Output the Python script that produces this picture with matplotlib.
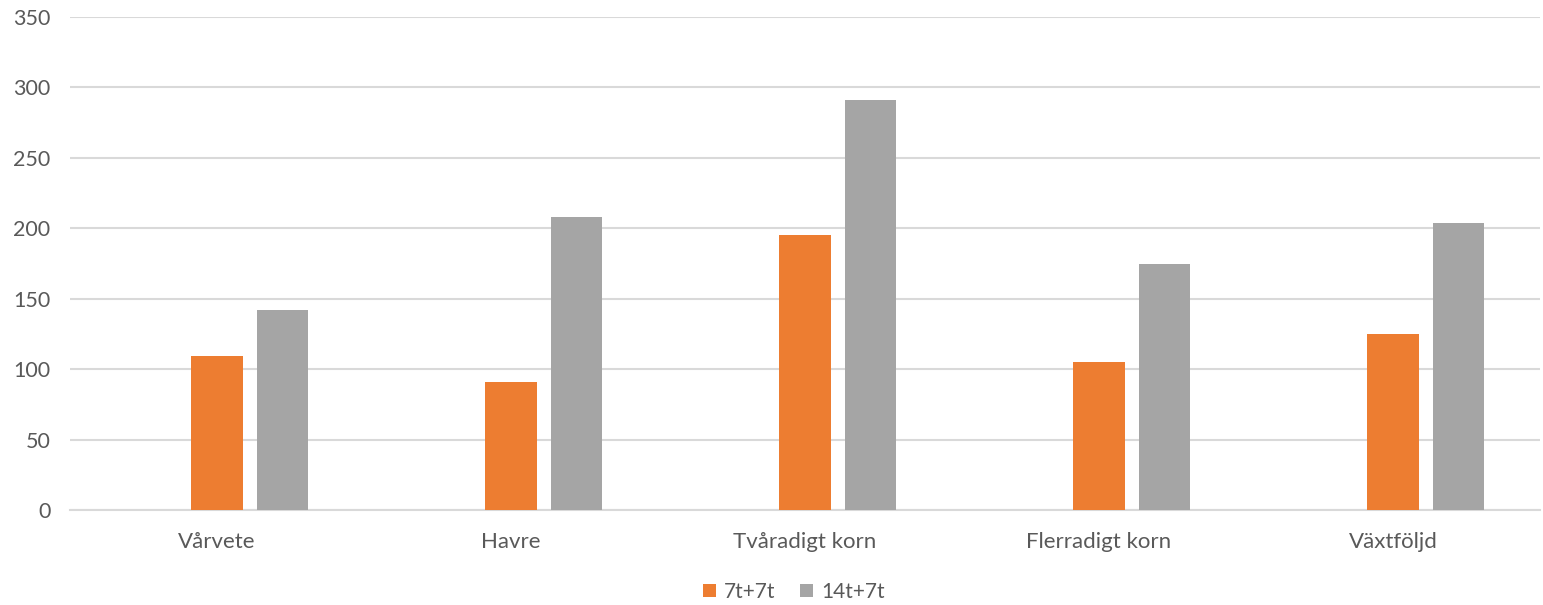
import matplotlib.pyplot as plt
import numpy as np

categories = ["Vårvete", "Havre", "Tvåradigt korn", "Flerradigt korn", "Växtföljd"]
series_names = ["7t+7t", "14t+7t"]
values_7t = [109, 91, 195, 105, 125]
values_14t = [142, 208, 291, 175, 204]
y_ticks = [0, 50, 100, 150, 200, 250, 300, 350]

plt.rcParams['font.family'] = ['Lato', 'DejaVu Sans']
text_color = '#595959'

fig = plt.figure(figsize=(15.43, 6.05), dpi=100)
ax = fig.add_axes([70/1543, 1 - 510/605, 1470/1543, 493/605])

x = np.arange(len(categories))
w = 0.174
step = 0.222
ax.bar(x, values_7t, width=w, color='#ED7D31', label=series_names[0], zorder=3)
ax.bar(x + step, values_14t, width=w, color='#A5A5A5', label=series_names[1], zorder=3)

ax.set_xlim(-0.5, len(categories) - 0.5)
ax.set_ylim(0, 350)
ax.set_yticks(y_ticks)
ax.set_xticks(x)
ax.set_xticklabels(categories)
ax.grid(axis='y', color='#d9d9d9', linewidth=1.5, zorder=0)
ax.tick_params(axis='x', length=0, labelsize=16, colors=text_color, pad=16)
ax.tick_params(axis='y', length=0, labelsize=15.5, colors=text_color, pad=14)
for s in ['top', 'right', 'left']:
    ax.spines[s].set_visible(False)
ax.spines['bottom'].set_color('#d9d9d9')
ax.spines['bottom'].set_linewidth(1.5)

leg = fig.legend(loc='center', bbox_to_anchor=(794/1543, 1 - 592/605), ncol=2,
                 frameon=False, fontsize=15, handlelength=0.6, handleheight=0.6,
                 handletextpad=0.4, columnspacing=1.2)
for t in leg.get_texts():
    t.set_color(text_color)

fig.savefig('out.png', dpi=100)
